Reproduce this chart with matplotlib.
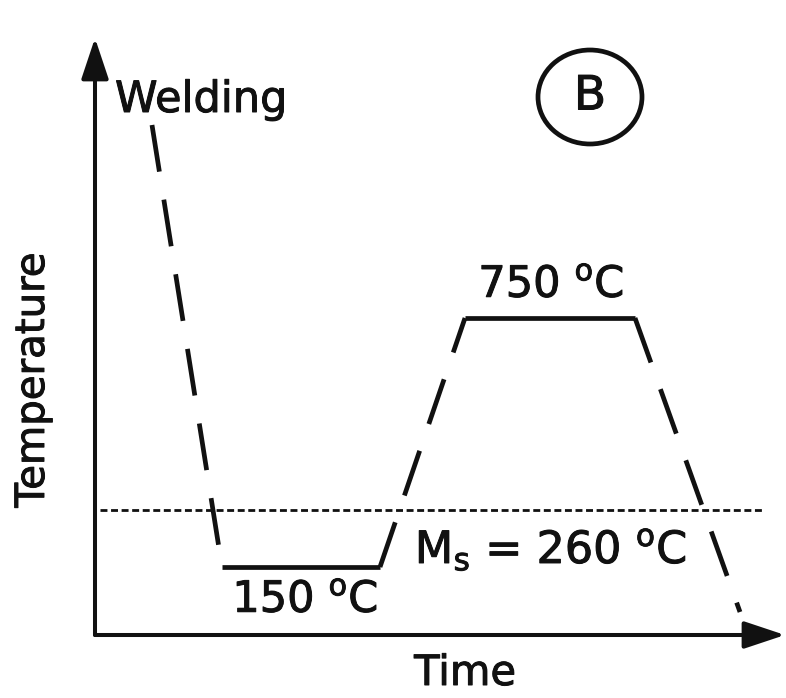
import matplotlib
matplotlib.use("Agg")
import matplotlib.pyplot as plt
import matplotlib.patheffects as pe
from matplotlib.patches import Ellipse

# schematic weld thermal cycle (arbitrary time / temperature units)
time = [57, 127, 285, 370, 540, 645]
temp = [510, 68, 68, 317, 317, 23]
seg_styles = ["dashed", "solid", "dashed", "solid", "dashed"]
ms_level = 125

labels = {
    "welding": "Welding",
    "low": "150 $^{\\mathrm{o}}$C",
    "high": "750 $^{\\mathrm{o}}$C",
    "ms": "M$_{\\mathrm{s}}$ = 260 $^{\\mathrm{o}}$C",
}

ink = "#111111"
thick = [pe.withStroke(linewidth=0.7, foreground=ink)]

fig = plt.figure(figsize=(7.86, 6.98), dpi=100)
ax = fig.add_axes([0, 0, 1, 1])
ax.set_xlim(-95, 691)
ax.set_ylim(-63, 635)
ax.axis("off")

# axes with arrow heads
for tip in [(0, 597), (690, 0)]:
    ax.annotate("", xy=tip, xytext=(0, 0), annotation_clip=False,
                arrowprops=dict(arrowstyle="-|>,head_length=0.9,head_width=0.3",
                                mutation_scale=28, lw=2.9, color=ink,
                                shrinkA=0, shrinkB=0))

# thermal cycle, segment by segment
for i, style in enumerate(seg_styles):
    line, = ax.plot(time[i:i + 2], temp[i:i + 2], color=ink, lw=3.4,
                    solid_capstyle="butt", dash_capstyle="butt")
    if style == "dashed":
        line.set_dashes((10, 6))

# Ms line
ms, = ax.plot([5, 670], [ms_level, ms_level], color=ink, lw=2.0)
ms.set_dashes((2.5, 1.3))

txt = dict(color=ink, va="center", path_effects=thick)
ax.text(20, 535, labels["welding"], fontsize=31, ha="left", **txt)
ax.text(210, 35, labels["low"], fontsize=31, ha="center", **txt)
ax.text(456, 350, labels["high"], fontsize=31, ha="center", **txt)
ax.text(456, 85, labels["ms"], fontsize=32, ha="center", **txt)
ax.text(-62, 255, "Temperature", fontsize=29, rotation=90, ha="center", **txt)
ax.text(370, -38, "Time", fontsize=30, ha="center", **txt)

# circled B
ax.add_patch(Ellipse((495, 538), 104, 94, fill=False, lw=3.4, ec=ink))
ax.text(495, 538, "B", fontsize=34, ha="center", **txt)

fig.savefig("out.png", dpi=100, facecolor="white")
